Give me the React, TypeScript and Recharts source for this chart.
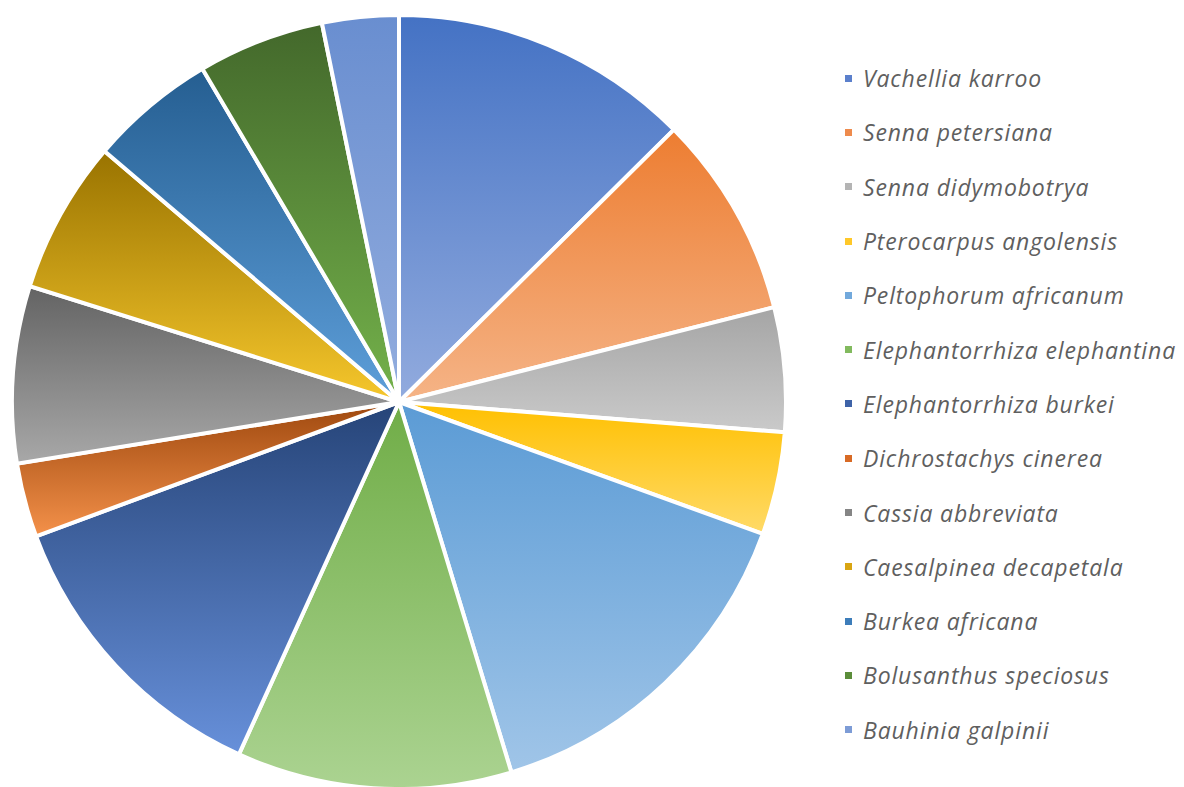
import { PieChart, Pie, Cell, Legend } from "recharts";

const species = [
  "Vachellia karroo",
  "Senna petersiana",
  "Senna didymobotrya",
  "Pterocarpus angolensis",
  "Peltophorum africanum",
  "Elephantorrhiza elephantina",
  "Elephantorrhiza burkei",
  "Dichrostachys cinerea",
  "Cassia abbreviata",
  "Caesalpinea decapetala",
  "Burkea africana",
  "Bolusanthus speciosus",
  "Bauhinia galpinii",
];

// share of each species (%)
const shares = [12.6, 8.5, 5.2, 4.3, 14.8, 11.5, 12.6, 3.1, 7.4, 6.4, 5.3, 5.3, 3.2];

// gradient top -> bottom, plus a flat colour for the legend key
const gradTop = ["#4472C4", "#ED7D31", "#A5A5A5", "#FFC000", "#5B9BD5", "#70AD47", "#264478", "#9E480E", "#636363", "#997300", "#255E91", "#43682B", "#698ED0"];
const gradBottom = ["#92ABDE", "#F5B487", "#CACACA", "#FFDA68", "#A0C5E8", "#ABD391", "#6790DA", "#F4914A", "#A8A8A8", "#F6C72C", "#5E9FDA", "#74B24B", "#93ADDE"];
const keyColor = ["#5B80CC", "#EE8B4D", "#B4B4B4", "#FFC829", "#72A9DC", "#82BA5E", "#3E63A8", "#D86A25", "#858585", "#D9A512", "#3D7DBA", "#5B8D3A", "#7D9CD6"];

const data = species.map((name, i) => ({ name, value: shares[i] }));

const LegendList = () => (
  <div style={{ fontFamily: "'Open Sans', Lato, sans-serif", fontStyle: "italic", color: "#5f5f5f" }}>
    {species.map((name, i) => (
      <div key={name} style={{ height: 54.3, display: "flex", alignItems: "center" }}>
        <span style={{ width: 7, height: 7, background: keyColor[i], marginRight: 11, flex: "none" }} />
        <span style={{ fontSize: 23, letterSpacing: 0.85, whiteSpace: "nowrap" }}>{name}</span>
      </div>
    ))}
  </div>
);

export default function App() {
  return (
    <PieChart width={1176} height={779} margin={{ top: 0, right: 0, bottom: 0, left: 0 }}>
      <defs>
        {gradTop.map((c, i) => (
          <linearGradient key={i} id={`sl${i}`} x1="0" y1="0" x2="0" y2="1">
            <stop offset="0%" stopColor={c} />
            <stop offset="100%" stopColor={gradBottom[i]} />
          </linearGradient>
        ))}
      </defs>
      <Pie
        data={data}
        dataKey="value"
        nameKey="name"
        cx={391}
        cy={394}
        outerRadius={387}
        startAngle={90}
        endAngle={-270}
        stroke="#ffffff"
        strokeWidth={4}
        isAnimationActive={false}
      >
        {data.map((d, i) => (
          <Cell key={d.name} fill={`url(#sl${i})`} />
        ))}
      </Pie>
      <Legend
        content={<LegendList />}
        wrapperStyle={{ position: "absolute", left: 837, top: 43, width: 345 }}
      />
    </PieChart>
  );
}
